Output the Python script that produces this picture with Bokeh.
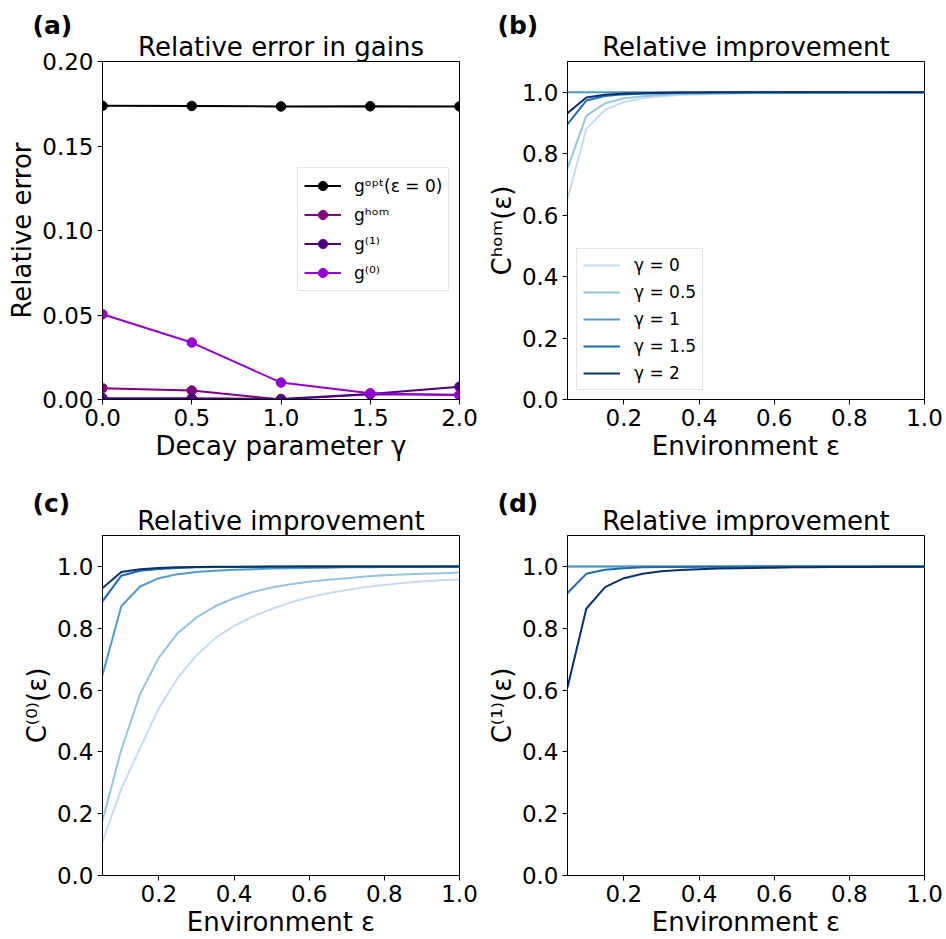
from bokeh.plotting import figure
from bokeh.layouts import column, row
from bokeh.models import FixedTicker, Legend, LegendItem, Label, Range1d, Title
from bokeh.embed import file_html
from bokeh.resources import INLINE

FONT = "DejaVu Sans"

# ---------------- Panel (a) data ----------------
gamma = [0.0, 0.5, 1.0, 1.5, 2.0]
err_opt = [0.1738, 0.1737, 0.1734, 0.1735, 0.1734]
err_hom = [0.0067, 0.0053, 0.0000, 0.0031, 0.0028]
err_g1 = [0.0008, 0.0007, 0.0003, 0.0033, 0.0076]
err_g0 = [0.0504, 0.0337, 0.0100, 0.0037, 0.0025]
a_labels = ["gᵒᵖᵗ(ε = 0)", "gʰᵒᵐ", "g⁽¹⁾", "g⁽⁰⁾"]
a_colors = ["#000000", "#800080", "#4b0082", "#9400d3"]
a_xticks = [0.0, 0.5, 1.0, 1.5, 2.0]
a_xticklabels = ["0.0", "0.5", "1.0", "1.5", "2.0"]
a_yticks = [0.0, 0.05, 0.10, 0.15, 0.20]
a_yticklabels = ["0.00", "0.05", "0.10", "0.15", "0.20"]

# ---------------- Panels (b)-(d) data ----------------
eps = [0.05, 0.10, 0.15, 0.20, 0.25, 0.30, 0.35, 0.40, 0.45, 0.50,
       0.55, 0.60, 0.65, 0.70, 0.75, 0.80, 0.85, 0.90, 0.95, 1.00]
gamma_labels = ["γ = 0", "γ = 0.5", "γ = 1", "γ = 1.5", "γ = 2"]
blues = ["#c6dbef", "#94c4df", "#4f9bcb", "#1d6cb1", "#08306b"]

c_hom = [
    [0.652, 0.880, 0.943, 0.968, 0.980, 0.987, 0.991, 0.993, 0.995, 0.996,
     0.997, 0.997, 0.998, 0.998, 0.998, 0.999, 0.999, 0.999, 0.999, 0.999],
    [0.752, 0.923, 0.964, 0.980, 0.987, 0.991, 0.994, 0.995, 0.996, 0.997,
     0.998, 0.998, 0.998, 0.999, 0.999, 0.999, 0.999, 0.999, 1.000, 1.000],
    [1.000, 1.000, 1.000, 1.000, 1.000, 1.000, 1.000, 1.000, 1.000, 1.000,
     1.000, 1.000, 1.000, 1.000, 1.000, 1.000, 1.000, 1.000, 1.000, 1.000],
    [0.896, 0.973, 0.988, 0.993, 0.996, 0.997, 0.998, 0.999, 0.999, 0.999,
     1.000, 1.000, 1.000, 1.000, 1.000, 1.000, 1.000, 1.000, 1.000, 1.000],
    [0.932, 0.983, 0.992, 0.996, 0.997, 0.998, 0.999, 0.999, 1.000, 1.000,
     1.000, 1.000, 1.000, 1.000, 1.000, 1.000, 1.000, 1.000, 1.000, 1.000],
]
c_0 = [
    [0.110, 0.280, 0.412, 0.542, 0.639, 0.712, 0.768, 0.808, 0.838, 0.862,
     0.883, 0.900, 0.913, 0.924, 0.933, 0.940, 0.946, 0.951, 0.955, 0.958],
    [0.177, 0.407, 0.587, 0.705, 0.784, 0.835, 0.871, 0.897, 0.917, 0.932,
     0.942, 0.950, 0.957, 0.962, 0.967, 0.971, 0.974, 0.976, 0.978, 0.980],
    [0.649, 0.871, 0.935, 0.962, 0.975, 0.982, 0.986, 0.989, 0.991, 0.993,
     0.994, 0.995, 0.996, 0.997, 0.997, 0.998, 0.998, 0.998, 0.999, 0.999],
    [0.887, 0.970, 0.986, 0.992, 0.995, 0.997, 0.998, 0.998, 0.999, 0.999,
     0.999, 1.000, 1.000, 1.000, 1.000, 1.000, 1.000, 1.000, 1.000, 1.000],
    [0.930, 0.982, 0.991, 0.995, 0.997, 0.998, 0.999, 0.999, 0.999, 1.000,
     1.000, 1.000, 1.000, 1.000, 1.000, 1.000, 1.000, 1.000, 1.000, 1.000],
]
c_1 = [
    [1.000] * 20,
    [1.000] * 20,
    [1.000] * 20,
    [0.914, 0.976, 0.989, 0.994, 0.997, 0.998, 0.998, 0.999, 0.999, 0.999,
     1.000, 1.000, 1.000, 1.000, 1.000, 1.000, 1.000, 1.000, 1.000, 1.000],
    [0.608, 0.863, 0.933, 0.962, 0.976, 0.984, 0.988, 0.991, 0.993, 0.994,
     0.995, 0.996, 0.997, 0.997, 0.998, 0.998, 0.998, 0.999, 0.999, 0.999],
]
e_xticks = [0.2, 0.4, 0.6, 0.8, 1.0]
e_xticklabels = ["0.2", "0.4", "0.6", "0.8", "1.0"]
e_yticks = [0.0, 0.2, 0.4, 0.6, 0.8, 1.0]
e_yticklabels = ["0.0", "0.2", "0.4", "0.6", "0.8", "1.0"]

FW = 357


def make_fig(xr, yr, title, xlabel, ylabel, xt, xtl, yt, ytl, left, right, top, bottom,
             tag, tag_x, tag_y, fh):
    p = figure(frame_width=FW, frame_height=fh, x_range=Range1d(*xr), y_range=Range1d(*yr),
               output_backend="svg", toolbar_location=None, title=None,
               min_border_left=left, min_border_right=right,
               min_border_top=top, min_border_bottom=bottom)
    p.background_fill_color = "white"
    p.border_fill_color = "white"
    # title first: nearest to the frame
    p.add_layout(Title(text=title, text_font=FONT, text_font_size="26px", text_font_style="normal",
                       align="center", text_color="black", standoff=0), "above")
    p.xgrid.visible = False
    p.ygrid.visible = False
    p.outline_line_color = "black"
    p.outline_line_width = 1
    p.outline_line_alpha = 1.0
    for ax, ticks, labels, lab in ((p.xaxis[0], xt, xtl, xlabel), (p.yaxis[0], yt, ytl, ylabel)):
        ax.ticker = FixedTicker(ticks=ticks, minor_ticks=[])
        ax.major_label_overrides = {t: l for t, l in zip(ticks, labels)}
        ax.axis_label = lab
        ax.axis_label_text_font = FONT
        ax.axis_label_text_font_size = "26px"
        ax.axis_label_text_font_style = "normal"
        ax.axis_label_text_color = "black"
        ax.axis_label_standoff = 2
        ax.major_label_text_font = FONT
        ax.major_label_text_font_size = "23px"
        ax.major_label_text_color = "black"
        ax.major_label_standoff = 4
        ax.major_tick_out = 5
        ax.major_tick_in = 0
        ax.minor_tick_out = 0
        ax.minor_tick_in = 0
        ax.axis_line_color = "black"
        ax.major_tick_line_color = "black"
    p.add_layout(Label(x=tag_x, y=tag_y, x_units="canvas", y_units="canvas", text=tag,
                       text_font=FONT, text_font_style="bold", text_font_size="25px",
                       text_baseline="alphabetic", text_align="left", text_color="black"),
                 "above")
    return p


def style_legend(leg, fs, gh, sp):
    leg.label_text_font = FONT
    leg.label_text_font_size = fs
    leg.label_text_color = "black"
    leg.glyph_width = 37
    leg.glyph_height = gh
    leg.label_height = gh
    leg.label_standoff = 14
    leg.spacing = sp
    leg.padding = 6
    leg.margin = 0
    leg.border_line_color = "#cccccc"
    leg.border_line_width = 1
    leg.background_fill_color = "white"
    leg.background_fill_alpha = 0.8


# ---------- (a) ----------
pa = make_fig((0.0, 2.0), (0.0, 0.2), "Relative error in gains", "Decay parameter γ", "Relative error",
              a_xticks, a_xticklabels, a_yticks, a_yticklabels, 102, 19, 58, 64, "(a)", 32, 25, 338)
items = []
for lbl, ys, col in zip(a_labels, [err_opt, err_hom, err_g1, err_g0], a_colors):
    r1 = pa.line(gamma, ys, line_color=col, line_width=2)
    r2 = pa.scatter(gamma, ys, size=9.5, fill_color=col, line_color=col)
    items.append(LegendItem(label=lbl, renderers=[r1, r2]))
leg_a = Legend(items=items, location=(195, 108))
style_legend(leg_a, "17px", 23, 6)
leg_a.label_standoff = 13
pa.add_layout(leg_a)


def curve_fig(series, ylabel, tag, top, bottom, left, right, tag_x, tag_y, fh, legend=False):
    p = make_fig((0.05, 1.0), (0.0, 1.1), "Relative improvement", "Environment ε", ylabel,
                 e_xticks, e_xticklabels, e_yticks, e_yticklabels, left, right, top, bottom,
                 tag, tag_x, tag_y, fh)
    its = []
    for lbl, ys, col in zip(gamma_labels, series, blues):
        r = p.line(eps, ys, line_color=col, line_width=2)
        its.append(LegendItem(label=lbl, renderers=[r]))
    if legend:
        lg = Legend(items=its, location=(9, 9))
        style_legend(lg, "17px", 20, 7)
        p.add_layout(lg)
    return p


pb = curve_fig(c_hom, "Cʰᵒᵐ(ε)", "(b)", 58, 64, 89, 20, 19, 25, 338, legend=True)
pc = curve_fig(c_0, "C⁽⁰⁾(ε)", "(c)", 72, 62, 102, 19, 32, 40, 340)
pd = curve_fig(c_1, "C⁽¹⁾(ε)", "(d)", 72, 62, 89, 20, 19, 40, 340)

layout = column(row(pa, pb, spacing=0), row(pc, pd, spacing=0), spacing=0)

open("out.html", "w").write(file_html(layout, INLINE))
